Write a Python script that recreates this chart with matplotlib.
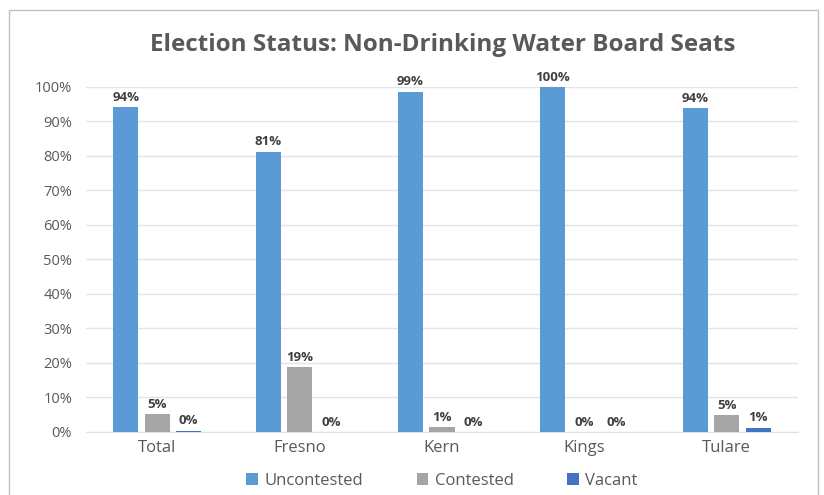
import matplotlib.pyplot as plt
import matplotlib.patches as mpatches
import numpy as np

plt.rcParams['font.family'] = ['Open Sans', 'DejaVu Sans']

# data (percent of seats)
counties = ['Total', 'Fresno', 'Kern', 'Kings', 'Tulare']
uncontested = [94.2, 81.2, 98.6, 100.0, 93.8]
contested = [5.2, 18.8, 1.4, 0.0, 4.9]
vacant = [0.4, 0.0, 0.0, 0.0, 1.2]

series = [('Uncontested', uncontested, '#5B9BD5'),
          ('Contested', contested, '#A5A5A5'),
          ('Vacant', vacant, '#4472C4')]

fig = plt.figure(figsize=(8.24, 4.95), dpi=100)
ax = fig.add_axes([0.1044, 0.1273, 0.864, 0.697])

x = np.arange(len(counties))
bar_w = 0.176
step = 0.221

for i, (name, vals, color) in enumerate(series):
    pos = x + (i - 1) * step
    bars = ax.bar(pos, vals, bar_w, color=color, label=name, zorder=3)
    for b, v in zip(bars, vals):
        ax.text(b.get_x() + b.get_width() / 2, v + 1.0, f'{v:.0f}%',
                ha='center', va='bottom', fontsize=9.5, fontweight='bold',
                color='#404040', clip_on=False)

ax.set_xlim(-0.5, len(counties) - 0.5)
ax.set_ylim(0, 100)
ax.set_yticks(np.arange(0, 101, 10))
ax.set_yticklabels([f'{t}%' for t in range(0, 101, 10)])
ax.set_xticks(x)
ax.set_xticklabels(counties)

ax.grid(axis='y', color='#E4E4E4', linewidth=1, zorder=0)
for s in ['top', 'right', 'left']:
    ax.spines[s].set_visible(False)
ax.spines['bottom'].set_color('#E0E0E0')
ax.tick_params(axis='y', length=0, labelsize=10.5, labelcolor='#595959', pad=10)
ax.tick_params(axis='x', length=0, labelsize=12, labelcolor='#595959', pad=6)

fig.text(0.537, 0.91, 'Election Status: Non-Drinking Water Board Seats',
         ha='center', va='center', fontsize=17.5, fontweight='bold', color='#595959')

ax.legend(loc='upper center', bbox_to_anchor=(0.5, -0.075), ncol=3,
          frameon=False, fontsize=12, labelcolor='#595959',
          handlelength=0.7, handleheight=0.7, handletextpad=0.4, columnspacing=3.2)

# outer chart border
fig.patches.append(mpatches.Rectangle((9 / 824, -0.1), 809 / 824, 1.1 - 10 / 495,
                                      transform=fig.transFigure, fill=False,
                                      edgecolor='#BFBFBF', linewidth=1))

fig.savefig('out.png', dpi=100)
